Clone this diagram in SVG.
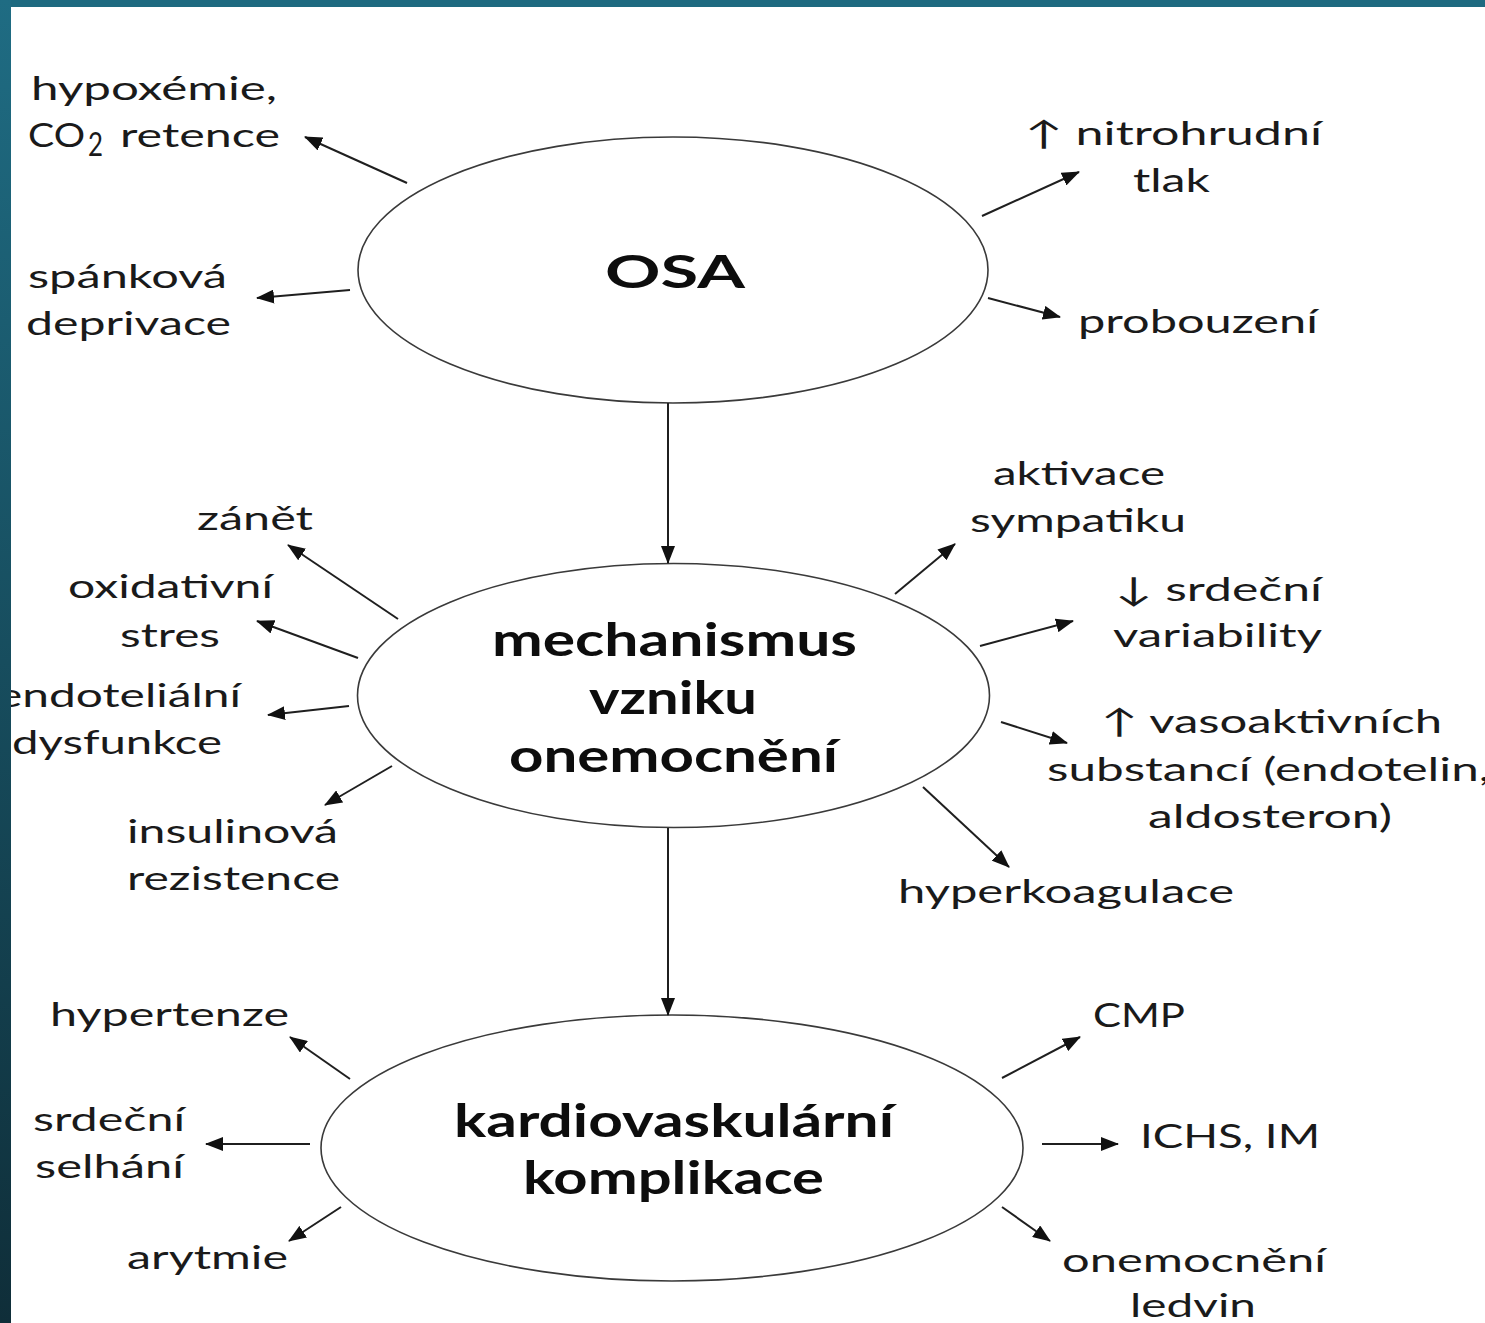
<svg xmlns="http://www.w3.org/2000/svg" width="1485" height="1323" viewBox="0 0 1485 1323">
<style>
.lbl{font-family:Lato,"Open Sans","DejaVu Sans",sans-serif;font-size:33px;fill:#1a1a1a}
.ttl{font-family:Lato,"Open Sans","DejaVu Sans",sans-serif;font-weight:bold;font-size:46px;fill:#0d0d0d}
.node{fill:#fff;stroke:#3a3a3a;stroke-width:1.6}
.conn line{stroke:#1f1f1f;stroke-width:2;marker-end:url(#ah)}
</style>
<defs>
<marker id="ah" markerUnits="userSpaceOnUse" markerWidth="18" markerHeight="14" refX="17" refY="7" orient="auto">
<path d="M0,0 L18,7 L0,14 z" fill="#111"/>
</marker>
<linearGradient id="side" x1="0" y1="0" x2="0" y2="1">
<stop offset="0" stop-color="#1f6c83"/>
<stop offset="1" stop-color="#0f2e39"/>
</linearGradient>
</defs>
<rect x="0" y="0" width="1485" height="1323" fill="#fff"/>

<g id="node-osa">
<ellipse class="node" cx="673" cy="270" rx="315" ry="133"/>
<text class="ttl" x="605" y="288" font-size="56" textLength="140" lengthAdjust="spacingAndGlyphs">OSA</text>
</g>
<g id="node-mech">
<ellipse class="node" cx="673.5" cy="695.5" rx="316" ry="132"/>
<text class="ttl" x="492" y="656" textLength="365" lengthAdjust="spacingAndGlyphs">mechanismus</text>
<text class="ttl" x="589" y="714" textLength="168" lengthAdjust="spacingAndGlyphs">vzniku</text>
<text class="ttl" x="509" y="772" textLength="329" lengthAdjust="spacingAndGlyphs">onemocnění</text>
</g>
<g id="node-kardio">
<ellipse class="node" cx="672" cy="1148" rx="351" ry="133"/>
<text class="ttl" x="454" y="1137" textLength="440" lengthAdjust="spacingAndGlyphs">kardiovaskulární</text>
<text class="ttl" x="523" y="1194" textLength="301" lengthAdjust="spacingAndGlyphs">komplikace</text>
</g>

<g id="connectors" class="conn">
<line x1="407" y1="183" x2="305" y2="137"/>
<line x1="350" y1="290" x2="257" y2="298"/>
<line x1="982" y1="216" x2="1079" y2="172"/>
<line x1="988" y1="298" x2="1060" y2="317"/>
<line x1="668" y1="403" x2="668" y2="563"/>
<line x1="398" y1="619" x2="288" y2="545"/>
<line x1="358" y1="658" x2="257" y2="621"/>
<line x1="349" y1="706" x2="268" y2="715"/>
<line x1="392" y1="766" x2="325" y2="805"/>
<line x1="895" y1="594" x2="955" y2="544"/>
<line x1="980" y1="646" x2="1073" y2="621"/>
<line x1="1001" y1="722" x2="1067" y2="743"/>
<line x1="923" y1="787" x2="1009" y2="867"/>
<line x1="668" y1="828" x2="668" y2="1015"/>
<line x1="350" y1="1079" x2="290" y2="1037"/>
<line x1="310" y1="1144" x2="206" y2="1144"/>
<line x1="341" y1="1207" x2="289" y2="1241"/>
<line x1="1002" y1="1078" x2="1080" y2="1037"/>
<line x1="1042" y1="1144" x2="1118" y2="1144"/>
<line x1="1002" y1="1207" x2="1050" y2="1241"/>
</g>

<g id="lbl-hypoxemie">
<text class="lbl" x="31" y="100" textLength="246" lengthAdjust="spacingAndGlyphs">hypoxémie,</text>
<text class="lbl" x="28" y="147" textLength="57" lengthAdjust="spacingAndGlyphs">CO</text>
<text class="lbl" x="88" y="156" font-size="20" textLength="15" lengthAdjust="spacingAndGlyphs">2</text>
<text class="lbl" x="120" y="147" textLength="160" lengthAdjust="spacingAndGlyphs">retence</text>
</g>
<g id="lbl-spankova">
<text class="lbl" x="28" y="288" textLength="199" lengthAdjust="spacingAndGlyphs">spánková</text>
<text class="lbl" x="26" y="335" textLength="205" lengthAdjust="spacingAndGlyphs">deprivace</text>
</g>
<g id="lbl-nitrohrudni">
<text class="lbl" x="1025" y="145" textLength="297" lengthAdjust="spacingAndGlyphs">↑ nitrohrudní</text>
<text class="lbl" x="1133" y="192" textLength="77" lengthAdjust="spacingAndGlyphs">tlak</text>
</g>
<g id="lbl-probouzeni">
<text class="lbl" x="1078" y="333" textLength="240" lengthAdjust="spacingAndGlyphs">probouzení</text>
</g>
<g id="lbl-aktivace">
<text class="lbl" x="993" y="485" textLength="172" lengthAdjust="spacingAndGlyphs">aktivace</text>
<text class="lbl" x="970" y="532" textLength="216" lengthAdjust="spacingAndGlyphs">sympatiku</text>
</g>
<g id="lbl-variabilita">
<text class="lbl" x="1115" y="601" textLength="207" lengthAdjust="spacingAndGlyphs">↓ srdeční</text>
<text class="lbl" x="1113" y="647" textLength="209" lengthAdjust="spacingAndGlyphs">variability</text>
</g>
<g id="lbl-vasoaktivni">
<text class="lbl" x="1101" y="733" textLength="341" lengthAdjust="spacingAndGlyphs">↑ vasoaktivních</text>
<text class="lbl" x="1047" y="781" textLength="443" lengthAdjust="spacingAndGlyphs">substancí (endotelin,</text>
<text class="lbl" x="1148" y="828" textLength="244" lengthAdjust="spacingAndGlyphs">aldosteron)</text>
</g>
<g id="lbl-hyperkoagulace">
<text class="lbl" x="898" y="903" textLength="336" lengthAdjust="spacingAndGlyphs">hyperkoagulace</text>
</g>
<g id="lbl-zanet">
<text class="lbl" x="197" y="530" textLength="116" lengthAdjust="spacingAndGlyphs">zánět</text>
</g>
<g id="lbl-oxidativni">
<text class="lbl" x="68" y="598" textLength="205" lengthAdjust="spacingAndGlyphs">oxidativní</text>
<text class="lbl" x="120" y="647" textLength="100" lengthAdjust="spacingAndGlyphs">stres</text>
</g>
<g id="lbl-endotelialni">
<text class="lbl" x="-3" y="707" textLength="244" lengthAdjust="spacingAndGlyphs">endoteliální</text>
<text class="lbl" x="12" y="754" textLength="210" lengthAdjust="spacingAndGlyphs">dysfunkce</text>
</g>
<g id="lbl-insulinova">
<text class="lbl" x="127" y="843" textLength="211" lengthAdjust="spacingAndGlyphs">insulinová</text>
<text class="lbl" x="127" y="890" textLength="213" lengthAdjust="spacingAndGlyphs">rezistence</text>
</g>
<g id="lbl-hypertenze">
<text class="lbl" x="50" y="1026" textLength="239" lengthAdjust="spacingAndGlyphs">hypertenze</text>
</g>
<g id="lbl-selhani">
<text class="lbl" x="33" y="1131" textLength="152" lengthAdjust="spacingAndGlyphs">srdeční</text>
<text class="lbl" x="35" y="1178" textLength="149" lengthAdjust="spacingAndGlyphs">selhání</text>
</g>
<g id="lbl-arytmie">
<text class="lbl" x="127" y="1269" textLength="161" lengthAdjust="spacingAndGlyphs">arytmie</text>
</g>
<g id="lbl-cmp">
<text class="lbl" x="1093" y="1027" textLength="92" lengthAdjust="spacingAndGlyphs">CMP</text>
</g>
<g id="lbl-ichs">
<text class="lbl" x="1140" y="1148" textLength="180" lengthAdjust="spacingAndGlyphs">ICHS, IM</text>
</g>
<g id="lbl-ledvin">
<text class="lbl" x="1062" y="1272" textLength="264" lengthAdjust="spacingAndGlyphs">onemocnění</text>
<text class="lbl" x="1130" y="1317" textLength="126" lengthAdjust="spacingAndGlyphs">ledvin</text>
</g>

<rect x="0" y="0" width="1485" height="7" fill="#1e6a80"/>
<rect x="0" y="0" width="11" height="1323" fill="url(#side)"/>
</svg>
